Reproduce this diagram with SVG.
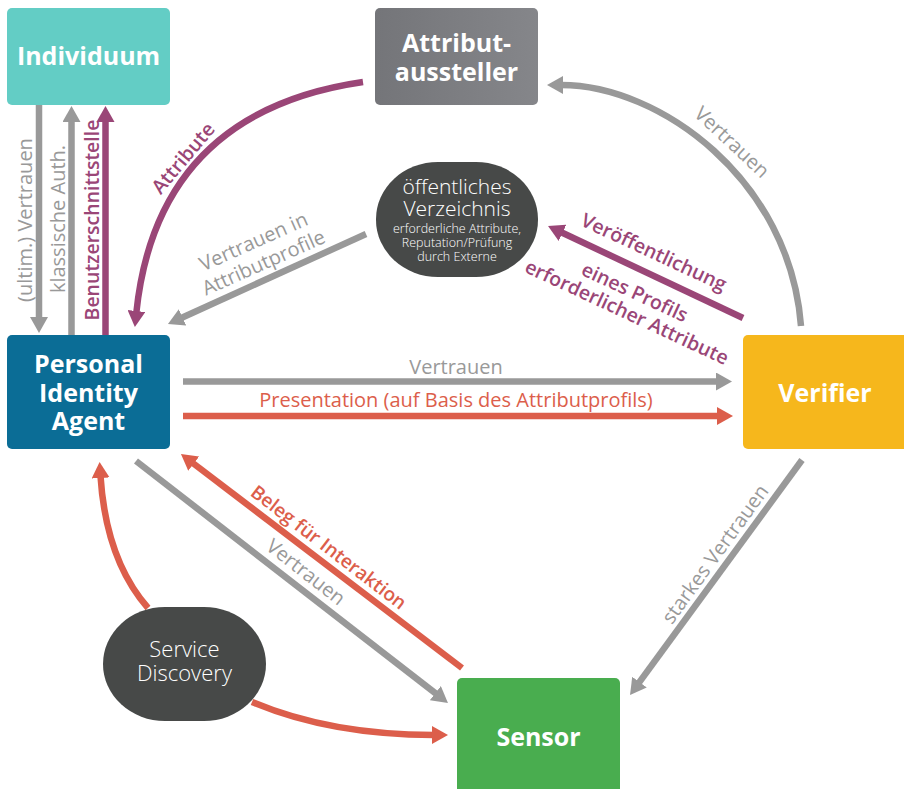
<svg xmlns="http://www.w3.org/2000/svg" width="904" height="789" viewBox="0 0 904 789">
<defs>
<style>
.box{stroke:none}
.title{font-family:"Open Sans","Noto Sans","Liberation Sans",sans-serif;font-weight:700;font-size:25px;fill:#ffffff;text-anchor:middle}
.blob{font-family:"Open Sans","Noto Sans","Liberation Sans",sans-serif;font-weight:300;fill:#ffffff;text-anchor:middle}
.lbl{font-family:"Open Sans","Noto Sans","Liberation Sans",sans-serif;font-size:20px;text-anchor:middle}
.g{fill:#999999;font-weight:400}
.p{fill:#9a4677;font-weight:600;font-size:19.5px}
.r{fill:#dc5e4b;font-weight:400}
.rs{fill:#dc5e4b;font-weight:600;font-size:19px}
.cg{fill:none;stroke:#999999;stroke-width:6.5;marker-end:url(#ag)}
.cp{fill:none;stroke:#9a4677;stroke-width:6.5;marker-end:url(#ap)}
.cr{fill:none;stroke:#dc5e4b;stroke-width:6.5;marker-end:url(#ar)}
</style>
<marker id="ag" markerUnits="userSpaceOnUse" viewBox="0 0 16 18" markerWidth="16" markerHeight="18" refX="2" refY="9" orient="auto"><path d="M0,0 L16,9 L0,18 z" fill="#999999"/></marker>
<marker id="ap" markerUnits="userSpaceOnUse" viewBox="0 0 16 18" markerWidth="16" markerHeight="18" refX="2" refY="9" orient="auto"><path d="M0,0 L16,9 L0,18 z" fill="#9a4677"/></marker>
<marker id="ar" markerUnits="userSpaceOnUse" viewBox="0 0 16 18" markerWidth="16" markerHeight="18" refX="2" refY="9" orient="auto"><path d="M0,0 L16,9 L0,18 z" fill="#dc5e4b"/></marker>
<linearGradient id="gg" x1="0" y1="0" x2="1" y2="0"><stop offset="0" stop-color="#747579"/><stop offset="1" stop-color="#85868a"/></linearGradient>
</defs>
<rect width="904" height="789" fill="#ffffff"/>

<g id="connectors">
<path class="cg" d="M39,105 L39,319"/>
<path class="cg" d="M71.5,335 L71.5,120"/>
<path class="cp" d="M105.5,335 L105.5,120"/>
<path class="cp" d="M363,82 Q157,112 136.3,313"/>
<path class="cg" d="M366,234 L180.7,318.2"/>
<path class="cg" d="M801,326 C790,180 660,85 561,85"/>
<path class="cp" d="M743,318 L560.7,232"/>
<path class="cg" d="M183,381.5 L718,381.5"/>
<path class="cr" d="M183,416 L719,416"/>
<path class="cr" d="M462,668 L192.1,462.5"/>
<path class="cg" d="M136,461 L436.9,694.4"/>
<path class="cg" d="M802,460 L638.3,683.7"/>
<path class="cr" d="M148,608 Q106,560 100.5,476"/>
<path class="cr" d="M252,702 Q330,735 434,735"/>

<text class="lbl g" transform="translate(25,220) rotate(-90)" y="7">(ultim.) Vertrauen</text>
<text class="lbl g" transform="translate(58,219) rotate(-90)" y="7">klassische Auth.</text>
<text class="lbl p" transform="translate(92,220) rotate(-90)" y="7">Benutzerschnittstelle</text>
<text class="lbl p" transform="translate(183,158) rotate(-50)" y="7">Attribute</text>
<text class="lbl g" transform="translate(253.5,241.5) rotate(-24)" y="7">Vertrauen in</text>
<text class="lbl g" transform="translate(263.5,262.5) rotate(-24)" y="7">Attributprofile</text>
<text class="lbl g" transform="translate(732,142) rotate(43)" y="7">Vertrauen</text>
<text class="lbl p" transform="translate(654,252) rotate(25)" y="7">Veröffentlichung</text>
<text class="lbl p" transform="translate(635,292) rotate(25)" y="7">eines Profils</text>
<text class="lbl p" transform="translate(627,312) rotate(25)" y="7">erforderlicher Attribute</text>
<text class="lbl g" x="456" y="374">Vertrauen</text>
<text class="lbl r" x="456" y="407">Presentation (auf Basis des Attributprofils)</text>
<text class="lbl rs" transform="translate(329,547) rotate(37.5)" y="7">Beleg für Interaktion</text>
<text class="lbl g" transform="translate(306,572) rotate(38)" y="7">Vertrauen</text>
<text class="lbl g" transform="translate(715,554) rotate(-54)" y="7">starkes Vertrauen</text>
</g>

<g id="individuum">
<rect class="box" x="7" y="8" width="163" height="97" rx="5" fill="#63cdc5"/>
<text class="title" x="88.5" y="65">Individuum</text>
</g>

<g id="attributaussteller">
<rect class="box" x="375" y="8" width="163" height="97" rx="5" fill="url(#gg)"/>
<text class="title" x="456.5" y="52">Attribut-</text>
<text class="title" x="456.5" y="81">aussteller</text>
</g>

<g id="verzeichnis">
<rect class="box" x="376" y="162" width="162" height="115" rx="62" ry="57" fill="#474948"/>
<text class="blob" x="457" y="194" font-size="21">öffentliches</text>
<text class="blob" x="457" y="216" font-size="21">Verzeichnis</text>
<text class="blob" x="457" y="233" font-size="12.5">erforderliche Attribute,</text>
<text class="blob" x="457" y="247" font-size="12.5">Reputation/Prüfung</text>
<text class="blob" x="457" y="261" font-size="12.5">durch Externe</text>
</g>

<g id="pia">
<rect class="box" x="7" y="335" width="163" height="114" rx="5" fill="#0b6d96"/>
<text class="title" x="88.5" y="373">Personal</text>
<text class="title" x="88.5" y="402">Identity</text>
<text class="title" x="88.5" y="430">Agent</text>
</g>

<g id="verifier">
<rect class="box" x="743" y="335" width="170" height="114" rx="5" fill="#f6b71c"/>
<text class="title" x="825" y="402">Verifier</text>
</g>

<g id="sensor">
<rect class="box" x="457" y="678" width="163" height="125" rx="5" fill="#49ad4f"/>
<text class="title" x="538.5" y="746">Sensor</text>
</g>

<g id="service-discovery">
<rect class="box" x="103" y="607" width="163" height="114" rx="62" ry="57" fill="#474948"/>
<text class="blob" x="184.5" y="657" font-size="22">Service</text>
<text class="blob" x="184.5" y="681" font-size="22">Discovery</text>
</g>
</svg>
